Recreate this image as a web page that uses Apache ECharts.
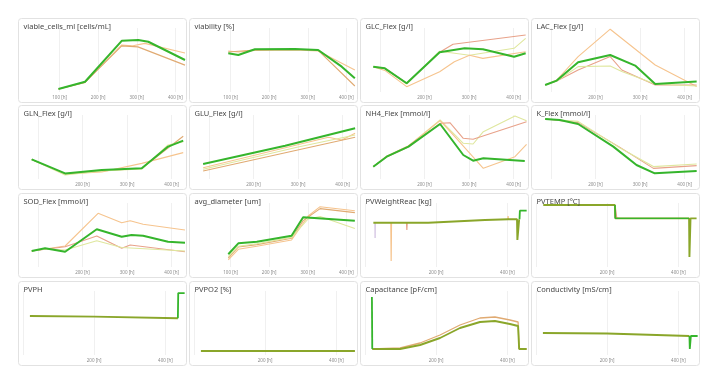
<!DOCTYPE html>
<html><head><meta charset="utf-8">
<script src="https://cdn.jsdelivr.net/npm/echarts@6/dist/echarts.min.js"></script>
<style>html,body{margin:0;padding:0;background:#fff}#c{width:715px;height:380px}</style>
</head><body><div id="c"></div>
<script>
// ---- data: [time (h), value] ----
const viableGreen = [[97,0.94],[166,3.2],[261,16.0],[304,16.25],[330,15.7],[425,10.0]];
const viableOrange = [[97,0.94],[166,3.0],[261,14.7],[287,14.4],[321,15.2],[425,12.2]];
const viableTan = [[97,0.94],[166,3.0],[261,14.4],[303,14.1],[425,8.4]];

const viabGreen = [[94,93.6],[120,92.3],[163,96.7],[267,96.9],[327,96.2],[388,83.4],[422,74.5]];
const viabOrange = [[94,95.4],[120,94.6],[163,95.8],[267,96.2],[327,95.4],[422,80.8]];
const viabTan = [[94,94.6],[163,96.2],[267,96.5],[327,95.8],[422,68.6]];

const glcGreen = [[85,3.16],[111,2.96],[160,1.09],[234,4.96],[290,5.46],[331,5.34],[401,4.41],[427,4.84]];
const glcSalmon = [[85,3.16],[111,2.96],[160,1.09],[234,4.96],[264,5.96],[427,7.13]];
const glcYellow = [[85,3.16],[111,2.96],[160,1.0],[234,5.1],[301,4.6],[401,5.46],[427,6.7]];
const glcOrange = [[85,3.16],[111,2.7],[160,0.67],[234,2.54],[267,3.79],[301,4.6],[331,4.2],[427,5.04]];

const lacGreen = [[87,0.35],[113,0.57],[161,1.49],[233,1.85],[289,1.32],[334,0.40],[427,0.52]];
const lacOrange = [[87,0.35],[113,0.6],[161,1.77],[233,3.14],[334,1.35],[427,0.27]];
const lacSalmon = [[87,0.35],[113,0.55],[161,1.1],[233,1.77],[259,1.1],[334,0.35],[427,0.35]];
const lacYellow = [[87,0.35],[113,0.55],[161,1.27],[233,1.3],[259,1.02],[334,0.4],[427,0.3]];

const glnGreen = [[86,0.49],[161,0.14],[243,0.225],[333,0.27],[392,0.81],[426,0.96]];
const glnOrange = [[86,0.49],[161,0.125],[243,0.175],[333,0.39],[426,0.66]];
const glnTan = [[86,0.49],[161,0.13],[243,0.2],[333,0.27],[426,1.07]];
const glnYellow = [[86,0.49],[161,0.1],[243,0.2],[333,0.25],[392,0.85],[426,0.93]];

const gluGreen = [[87,0.15],[271,0.333],[428,0.507]];
const gluOrange = [[87,0.113],[368,0.417],[398,0.39],[428,0.457]];
const gluTan = [[87,0.08],[428,0.417]];
const gluYellow = [[87,0.097],[300,0.32],[428,0.44]];

const nh4Green = [[85,3.08],[115,5.58],[164,8.08],[235,13.75],[287,6.0],[309,4.58],[332,5.18],[425,4.5]];
const nh4Yellow = [[85,3.08],[115,5.6],[164,8.2],[235,14.75],[287,8.92],[309,8.75],[332,11.83],[403,15.75],[429,14.58]];
const nh4Salmon = [[85,3.08],[115,5.5],[164,8.0],[235,13.9],[257,14.08],[287,10.17],[309,9.92],[429,14.33]];
const nh4Orange = [[85,3.08],[115,5.7],[164,8.3],[235,14.58],[268,10.58],[332,2.67],[403,5.58],[429,8.67]];

const kGreen = [[87,30],[120,29.5],[161,27.5],[240,16.2],[292,7],[333,2.85],[427,4]];
const kSalmon = [[87,30],[161,28.2],[255,15.8],[330,5.3],[427,6.7]];
const kYellow = [[87,30],[161,28.8],[255,15.5],[330,6.2],[427,7.5]];

const sodGreen = [[86,116],[116,118.7],[161,115.3],[232,137.7],[288,130.3],[310,132],[336,131.3],[392,125.3],[430,124.3]];
const sodOrange = [[86,116],[161,121],[235,153.7],[288,144.3],[307,146.3],[336,142.7],[430,137]];
const sodSalmon = [[86,116],[161,120.3],[232,131],[288,118.7],[307,122],[430,115.3]];
const sodYellow = [[86,116],[116,118],[161,117],[232,126.3],[288,119.5],[430,116]];

const diamGreen = [[94,13.59],[120,14.96],[168,15.16],[258,15.91],[288,18.21],[422,17.79]];
const diamOrange = [[94,12.88],[120,14.21],[168,14.6],[258,15.38],[301,18.38],[332,19.54],[422,19.04]];
const diamTan = [[94,13.1],[120,14.5],[168,14.8],[258,15.6],[288,17.8],[332,19.3],[422,18.8]];
const diamYellow = [[94,13.3],[120,14.6],[168,14.9],[258,15.7],[301,18.0],[332,18.3],[422,16.8]];

const weightMain = [[24,4.43],[90,4.43],[93,4.27],[96,4.43],[178,4.43],[337,4.70],[403,4.77],[427,4.77],[428,2.7],[432,2.7],[433,4.77],[434,4.77]];
const weightEnd = [[434,4.77],[435,5.63],[454,5.63]];
const weightOrangeSpike = [[73,4.43],[74,0.6],[75,4.43]];
const weightOrangeSpike2 = [[401,4.77],[402,5.1],[403,4.77]];
const weightSalmonSpike = [[117,4.43],[118,3.7],[119,4.43]];
const weightLavSpike = [[28,4.43],[29,2.9],[30,4.43]];

const tempMain = [[21,37.0],[222,37.0],[223,35.0],[430,35.0],[431,29.2],[433,29.2],[434,35.0],[451,35.0]];
const tempDrop = [[222,37.0],[223,35.0],[430,35.0]];
const tempSalmon = [[222,37.0],[226,37.0],[227,35.0],[235,35.0]];

const phMain = [[20,7.13],[200,7.12],[435,7.09]];
const phEnd = [[435,7.09],[436,7.56],[454,7.56]];

const po2Main = [[20,4],[452,4]];

const capStart = [[20,29],[21,3]];
const capMain = [[21,3],[99,3],[155,5],[211,8.5],[267,13.5],[323,16.5],[365,17],[407,15.5],[430,14.5],[433,3],[454,3]];
const capOrange = [[21,3],[99,3.5],[155,6],[211,10],[267,15],[323,18.5],[365,19],[407,17.5],[430,16.5],[433,3],[454,3]];

const condMain = [[20,8.8],[200,8.6],[431,7.6]];
const condSpike = [[431,7.6],[432,2.4],[434,2.4],[435,7.6],[454,7.6]];

// ---- layout & styles ----
const colLeft = [18,189,360,531], rowTop = [18,105,193,281], PW = 168, PH = 84;
const C = {green:'#35b52c', olive:'#8aa62a', orange:'#f6c48e', salmon:'#e8a28a', yellow:'#dfe79e', tan:'#e0aa72', lav:'#d9cbe6'};
const axisTypes = {
  cell:{min:0,max:425,step:100,from:100},
  flex:{min:62,max:430,step:100,from:200},
  pv:{min:-5,max:455,step:200,from:200}
};
const panels = [
  {title:'viable_cells_ml [cells/mL]', ax:'cell', y:[0,20], lines:[[viableOrange,'orange'],[viableTan,'tan'],[viableGreen,'green']]},
  {title:'viability [%]', ax:'cell', y:[64,113], lines:[[viabOrange,'orange'],[viabTan,'tan'],[viabGreen,'green']]},
  {title:'GLC_Flex [g/l]', ax:'flex', y:[0,8], lines:[[glcSalmon,'salmon'],[glcYellow,'yellow'],[glcOrange,'orange'],[glcGreen,'green']]},
  {title:'LAC_Flex [g/l]', ax:'flex', y:[0,3.2], lines:[[lacOrange,'orange'],[lacSalmon,'salmon'],[lacYellow,'yellow'],[lacGreen,'green']]},
  {title:'GLN_Flex [g/l]', ax:'flex', y:[0,1.6], lines:[[glnOrange,'orange'],[glnTan,'tan'],[glnYellow,'yellow'],[glnGreen,'green']]},
  {title:'GLU_Flex [g/l]', ax:'flex', y:[0,0.64], lines:[[gluOrange,'orange'],[gluTan,'tan'],[gluYellow,'yellow'],[gluGreen,'green']]},
  {title:'NH4_Flex [mmol/l]', ax:'flex', y:[0,16], lines:[[nh4Yellow,'yellow'],[nh4Salmon,'salmon'],[nh4Orange,'orange'],[nh4Green,'green']]},
  {title:'K_Flex [mmol/l]', ax:'flex', y:[0,32], lines:[[kSalmon,'salmon'],[kYellow,'yellow'],[kGreen,'green']]},
  {title:'SOD_Flex [mmol/l]', ax:'flex', y:[100,164], lines:[[sodOrange,'orange'],[sodSalmon,'salmon'],[sodYellow,'yellow'],[sodGreen,'green']]},
  {title:'avg_diameter [um]', ax:'cell', y:[12,20], lines:[[diamOrange,'orange'],[diamTan,'tan'],[diamYellow,'yellow'],[diamGreen,'green']]},
  {title:'PVWeightReac [kg]', ax:'pv', y:[0,6.4], lines:[[weightLavSpike,'lav',1],[weightOrangeSpike,'orange',1.2],[weightOrangeSpike2,'orange',1.2],[weightSalmonSpike,'salmon',1.2],[weightMain,'olive',1.9],[weightEnd,'green',1.8]]},
  {title:'PVTEMP [°C]', ax:'pv', y:[27.7,37.3], lines:[[tempSalmon,'salmon',1.4],[tempMain,'olive',1.9],[tempDrop,'green',1.4]]},
  {title:'PVPH', ax:'pv', y:[6.4,7.6], lines:[[phMain,'olive',1.9],[phEnd,'green',1.8]]},
  {title:'PVPO2 [%]', ax:'pv', y:[0,64], lines:[[po2Main,'olive',1.9]]},
  {title:'Capacitance [pF/cm]', ax:'pv', y:[0,32], lines:[[capOrange,'tan',1.3],[capMain,'olive',1.9],[capStart,'green',1.8]]},
  {title:'Conductivity [mS/cm]', ax:'pv', y:[0,25.6], lines:[[condMain,'olive',1.9],[condSpike,'green',1.8]]}
];

const pos = i => ({x: colLeft[i % 4], y: rowTop[Math.floor(i / 4)]});
const option = {
  animation: false,
  backgroundColor: '#ffffff',
  graphic: panels.map((p, i) => ({
    type: 'rect', silent: true, z: -100,
    shape: {x: pos(i).x + 0.5, y: pos(i).y + 0.5, width: PW, height: PH, r: 3},
    style: {fill: '#ffffff', stroke: '#e2e2e2', lineWidth: 1}
  })),
  title: panels.map((p, i) => ({
    text: p.title, left: pos(i).x + 5.5, top: pos(i).y + 4.5, padding: 0,
    textStyle: {fontSize: 7.5, fontWeight: 'normal', color: '#474747', fontFamily: 'Noto Sans'}
  })),
  grid: panels.map((p, i) => ({left: pos(i).x + 3, top: pos(i).y + 10, width: 164, height: 64, containLabel: false})),
  xAxis: panels.map((p, i) => {
    const a = axisTypes[p.ax];
    return {
      type: 'value', gridIndex: i, min: a.min, max: a.max, minInterval: a.step, maxInterval: a.step,
      axisLine: {show: false}, axisTick: {show: false},
      splitLine: {show: true, showMinLine: false, showMaxLine: false, lineStyle: {color: '#f0f0f0', width: 1}},
      axisLabel: {fontSize: 4.5, color: '#8a8a8a', margin: 3, fontFamily: 'Noto Sans',
        showMinLabel: false, showMaxLabel: false,
        formatter: v => (Math.abs(v % a.step) < 1e-6 && v >= a.from) ? v + ' [h]' : ''}
    };
  }),
  yAxis: panels.map((p, i) => ({type: 'value', gridIndex: i, min: p.y[0], max: p.y[1], show: false})),
  series: []
};
panels.forEach((p, i) => {
  p.lines.forEach(l => {
    const isGreen = l[1] === 'green';
    option.series.push({
      type: 'line', xAxisIndex: i, yAxisIndex: i, data: l[0], symbol: 'none', showSymbol: false,
      silent: true, z: isGreen ? 4 : (l[1] === 'olive' ? 3 : 2),
      lineStyle: {color: C[l[1]], width: l[2] || (isGreen ? 2 : 1.1)}
    });
  });
});
const chart = echarts.init(document.getElementById('c'), null, {renderer: 'canvas'});
chart.setOption(option);
</script></body></html>
